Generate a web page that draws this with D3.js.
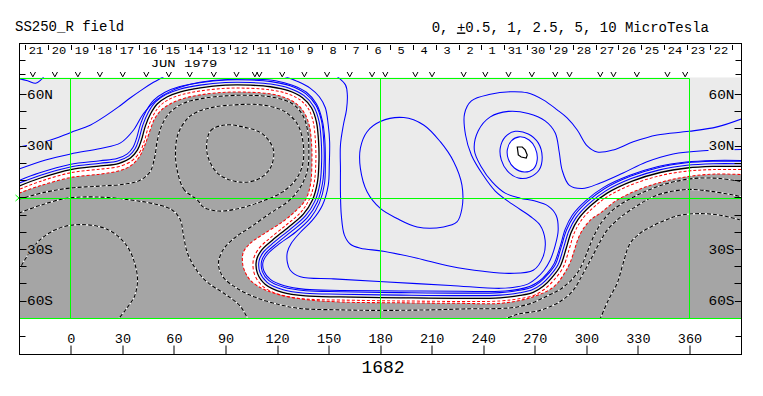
<!DOCTYPE html>
<html>
<head>
<meta charset="utf-8">
<script src="https://cdn.jsdelivr.net/npm/d3@7"></script>
<style>
  html, body { margin: 0; padding: 0; background: #fff; }
  svg { display: block; }
  text { font-family: "Liberation Mono", "DejaVu Sans Mono", monospace; fill: #000; }
</style>
</head>
<body>
<div id="chart"></div>
<script>
// Source surface field map, Carrington rotation 1682
// Contours are kept as [Carrington longitude, latitude] point lists

// neutral line (0 contour) and the edge of the shaded negative region
const neutralLine = [[-30.2,6.8],[-17.6,11.5],[0,16.4],[17.3,18.5],[27.7,19.9],[34.7,23.1],[38.8,27.8],[41.1,33.6],[43.4,41.8],[46.4,48.8],[50.4,54.6],[56.2,58.7],[63.8,61.6],[75.4,63.9],[90,65.4],[104.5,65.4],[116.1,64.5],[126.6,62.2],[134.8,58.1],[140,52.3],[142.9,44.1],[144.1,33.6],[144.4,22],[143.5,9.1],[140.6,-1.3],[135.3,-9.5],[126.6,-17.1],[117.3,-24.6],[110.9,-30.5],[108,-36.3],[108.6,-43.9],[113.2,-50.3],[123.1,-54.9],[136.5,-57],[156.9,-57.6],[191.8,-58.1],[226.7,-58.4],[249.9,-58.1],[261.5,-56.7],[269.1,-54.9],[274.9,-51.4],[280.1,-46.2],[284.8,-39.8],[288.3,-29.3],[291.2,-20],[295.3,-12.4],[302.3,-4.8],[312.1,2.7],[326.7,9.7],[343,14.7],[358.7,17.3],[373.8,18.2],[390.2,18.2]];
const grayEdge = [[-30.2,2.7],[-17.6,7.1],[0,11.8],[17.3,13.8],[27.7,15.6],[34.7,18.5],[39.4,23.1],[42.9,30.1],[46,38.9],[48.7,45.8],[52.8,51.1],[58,54.6],[65,57.5],[75.4,59.8],[90,61.3],[104.5,61.3],[116.1,60.4],[124.9,58.1],[131.3,54.6],[135.9,49.3],[138.8,41.8],[140,32.5],[140.3,22],[139.4,7.4],[136.5,-1.3],[131.3,-7.2],[123.7,-13.6],[112.1,-21.1],[104.5,-26.4],[100.4,-31.6],[99.9,-37.5],[101,-42.1],[104.5,-47.9],[113.8,-53.8],[133.6,-58.7],[156.9,-60.5],[191.8,-61],[226.7,-61.3],[249.9,-61.3],[267.3,-58.1],[280.7,-52],[286.5,-45],[290.6,-37.5],[296.4,-21.1],[302.3,-13],[308.1,-8.9],[317.9,-1.3],[331.3,5.1],[345.9,9.7],[361,12.6],[375.6,13.8],[390.2,13.5]];

// positive contours (solid blue)
const posBand3 = [[-30.2,16.7],[-14.7,22],[0,25.5],[17.3,28.7],[28.9,31.9],[36.5,39.4],[42.3,49],[49.8,56.9],[59.1,62.4],[69.6,65.9],[81.3,68],[95.8,68.9],[107.4,68.9],[119.1,68],[128.9,65.4],[137.1,61.3],[142.9,54.6],[146.4,44.7],[147.8,33.6],[148.1,22],[147.6,8],[144.6,-3.1],[139.4,-11.8],[130.7,-20],[120.2,-27.6],[114.4,-32.8],[111.8,-37.5],[112.4,-42.7],[116.1,-47.4],[124.3,-51.1],[136.5,-53.2],[156.9,-53.8],[191.8,-54.1],[226.7,-54.3],[249.9,-54.3],[260.4,-53.2],[267.3,-51.4],[272.5,-48.5],[277.2,-43.9],[281.3,-38.1],[284.8,-28.1],[287.7,-18.2],[291.8,-10.1],[299.4,-1.9],[309.8,5.9],[324.9,12.9],[341.8,18.2],[358.1,20.8],[373.8,21.7],[390.2,21.7]];
const posArcNW = [[-30.2,29.5],[-13.6,33],[0,38],[11.5,42.3],[20.2,47.6],[27.7,52.8],[34.7,58.1],[41.7,63],[48.1,67.1],[53.9,70.3],[55.5,71.5]];
const posArc4 = [[122.2,71.2],[132.4,67.4],[139.4,63.6],[144.6,58.7],[148.1,52.3],[149.8,42.3],[150.6,32.5],[150.4,19],[149.8,7.4],[146.4,-4.3],[140.6,-13],[133.6,-20],[128.3,-26.4],[126,-31.6],[126,-37.5],[127.7,-42.1],[133.6,-45.9],[152.8,-47.1],[181.9,-48.8],[220.8,-50.9],[249.9,-52.6],[259.8,-51.7],[266.2,-50],[270.8,-46.8],[275.4,-42.1],[278.9,-36.3],[281.9,-27.6],[283.6,-18.8],[282.4,-10.1],[277.8,-4.8],[270.2,-1.9],[261.5,-0.2],[252.8,2.7],[245.3,9.1],[238.9,17.9],[234.8,27.8],[237.1,38.9],[244.1,47],[254.6,50.2],[266.2,49],[276,44.7],[281.9,37.7],[284.2,26.6],[285.9,16.1],[290,7.4],[297.6,5.4],[308.1,8.6],[321.4,14.4],[334.9,20.8],[350.5,25.5],[370.3,27.5],[390.2,28.1]];
const posArcM = [[153.3,71.7],[159.8,65.6],[160.9,59.8],[160.4,51.1],[158.6,42.3],[156.9,30.7],[156.9,16.1],[156.9,3.3],[157.4,-10.1],[159.2,-21.7],[162.7,-27],[168.5,-29.3],[181.9,-31],[201.6,-35.1],[220.8,-39.8],[240,-42.7],[255.7,-43.9],[269.1,-42.1],[274.9,-34],[276,-24.6],[273.1,-15.9],[267.3,-10.7],[256.9,-3.7],[247,3.9],[239.5,13.8],[233.1,24.9],[229.7,36.5],[229.1,48.8],[233.1,56.3],[244.1,60.1],[255.7,61.6],[265.6,61],[274.9,56.9],[283,51.1],[288.8,46.4],[294.7,39.4],[300.5,30.1],[306.3,26.6],[315.6,27.8],[327.3,32.5],[341.2,36.5],[359.8,38.6],[376.1,41.2],[390.2,45.8]];
const posLoopMid = [[180.1,44.3],[193.7,46.6],[205.3,42.3],[215,32.6],[222.8,21],[227.6,7.4],[227.6,-6.2],[224.7,-14],[216.9,-16.9],[201.5,-16.9],[189.8,-12],[180.1,-6.2],[172.4,3.5],[168.5,17.1],[168.5,28.8],[172.4,38.4]];
const poleLoop1 = [[249.9,29],[252.8,35.4],[258.6,38.6],[266.2,37.1],[272,31.9],[274.3,23.7],[272.5,16.1],[267.3,12.1],[260.4,11.5],[254,15.6],[250.5,22]];
const poleLoop2 = [[254,27.8],[256.3,33],[260.9,35.4],[266.7,33.6],[270.2,29],[271.4,22],[269.1,16.7],[263.9,15],[258.1,17.3],[254.6,22.5]];
const poleCore = [[259.8,29.5],[262.7,29.5],[264.4,27.8],[265.6,24.9],[265,23.1],[262.1,23.7],[260.4,24.9]];
const posCornerNW = [[-30.5,69.3],[-25.2,68],[-20.5,66.5],[-17.6,68.3],[-15.3,71]];

// negative contours (dashed, inside the shaded region)
const negBand1 = [[-30.2,-0.8],[-14.7,3.3],[0,5.7],[17.3,6.8],[31.8,8],[40.5,10.3],[46,15],[48.7,23.1],[50.4,33.6],[53.3,42.9],[58,49.9],[65.5,54.9],[75.4,57.5],[90,59.2],[106.3,59.5],[119.1,58.1],[128.9,54.6],[134.8,48.2],[137.7,39.4],[138.5,27.8],[137.7,16.1],[133.6,6.2],[126.6,-1.9],[116.1,-8.9],[104.5,-17.1],[95.8,-22.9],[88.8,-29.9],[85.9,-38.1],[88.3,-45.6],[95.8,-52],[107.4,-57.8],[122,-62.2],[133.6,-64.3],[156.9,-65.1],[180.1,-65.4],[209.2,-65.1],[230.7,-64.5],[249.9,-64.3],[259.8,-63.4],[269.1,-60.8],[277.8,-56.7],[284.8,-53.2],[291.2,-47.9],[296.4,-41],[300.5,-31.6],[304.6,-21.7],[309.8,-13],[316.8,-6],[331.3,2.4],[347.1,8.3],[362.2,11.2],[377.9,11.2],[390.2,9.4]];
const negSW = [[-30.2,-8.9],[-17.6,-4.3],[-1.9,-0.2],[17.3,0.4],[34.7,-1.3],[49.3,-3.7],[59.1,-7.2],[63.8,-13],[65.5,-21.7],[67.9,-32.2],[72.5,-41],[79.5,-49.1],[90,-56.1],[98.7,-63.1],[103.4,-71.2]];
const negRing2 = [[73.7,-1.3],[66.1,4.5],[62.1,15],[60.9,26],[62.6,37.7],[69.6,47.6],[81.3,52.3],[95.8,54],[110.4,54],[123.7,50.5],[131.8,42.9],[135.3,30.7],[134.8,19],[130.7,10.3],[123.1,3.3],[111.5,-1.9],[98.7,-6],[85.9,-7.7],[77.2,-5.4]];
const negRing3 = [[79.3,25.9],[81.3,38.9],[90,42.3],[99.9,41.2],[111.5,37.1],[117.9,27.8],[116.1,17.3],[109.2,10.9],[98.7,9.1],[85.9,13.8]];
const negLowSW = [[-30.5,-42.5],[-25.2,-33.4],[-19.4,-25.8],[-11.8,-20],[-3.1,-16.5],[5.6,-15.6],[15.5,-16.5],[24.3,-20],[32.4,-27.6],[37,-37.5],[38.8,-47.9],[37,-57.3],[32.4,-64.3],[27.2,-71]];
const negSE1 = [[251.2,-71],[259.8,-67.7],[273.1,-65.4],[284.8,-60.2],[292.3,-53.8],[297.6,-45],[302.3,-36.3],[306.9,-27.6],[312.1,-18.8],[318.5,-12.4],[325.5,-7.2],[340.6,1.3],[358.1,4.8],[373.8,3.6],[390.2,0.7]];
const negSE2 = [[307.8,-71],[312.7,-59.6],[317.9,-49.7],[321.4,-38.1],[325.5,-26.4],[331.3,-20.6],[337.2,-17.1],[345.9,-13],[354.6,-10.1],[366.3,-9.2],[377.9,-10.1],[390.2,-13]];

// axes
const lonTicks = [0, 30, 60, 90, 120, 150, 180, 210, 240, 270, 300, 330, 360];
const latTicks = [-60, -50, -40, -30, -20, -10, 0, 10, 20, 30, 40, 50, 60];
const latLabels = [[60, '60N'], [30, '30N'], [-30, '30S'], [-60, '60S']];
const gridLons = [0, 180, 360];
const dayLabels = [21,20,19,18,17,16,15,14,13,12,11,10,9,8,7,6,5,4,3,2,1,31,30,29,28,27,26,25,24,23,22];
const dayStartLon = -26.35;   // first day tick
const degPerDay = 13.28;
const obsLon = [-22.1,-9.3,4.1,16.9,30.2,43.9,57,69.2,83.2,96.4,107.1,109.7,123,135.9,149.1,162.3,175.3,183,200.5,210.2,228.6,241.2,254.7,268.3,281.9,290.2,308.1,315.8,329.4,347.2,357.5];

const W = 763, H = 396;
const plot = { left: 19.3, right: 741, top: 77.3, bottom: 318.3 };
const BG = '#ebebeb', NEG = '#a5a5a5', GREEN = '#00ff00', BLUE = '#0000ff', RED = '#ff0000';
const LW = 1.05;   // contour line width

const x = d3.scaleLinear().domain([-30, 390]).range([plot.left, plot.right]);
const y = d3.scaleLinear().domain([70, -70]).range([plot.top, plot.bottom]);
const px = v => Math.floor(v) + 0.5;   // snap straight lines to pixel centres

const line = d3.line().x(d => x(d[0])).y(d => y(d[1])).curve(d3.curveCatmullRom.alpha(0.5));
const loop = d3.line().x(d => x(d[0])).y(d => y(d[1])).curve(d3.curveCatmullRomClosed.alpha(0.5));
const poly = d3.line().x(d => x(d[0])).y(d => y(d[1])).curve(d3.curveLinearClosed);

// region between a left-to-right contour and the bottom (or top) of the map
function below(pts) {
    const a = pts[0], b = pts[pts.length - 1];
    return 'M' + (plot.left - 4) + ',' + y(a[1]) + 'L' + line(pts).slice(1) +
        'L' + (plot.right + 4) + ',' + y(b[1]) + 'L' + (plot.right + 4) + ',' + (plot.bottom + 5) +
        'L' + (plot.left - 4) + ',' + (plot.bottom + 5) + 'Z';
}
function above(pts) {
    const a = pts[0], b = pts[pts.length - 1];
    return 'M' + (plot.left - 4) + ',' + y(a[1]) + 'L' + line(pts).slice(1) +
        'L' + (plot.right + 4) + ',' + y(b[1]) + 'L' + (plot.right + 4) + ',' + (plot.top - 5) +
        'L' + (plot.left - 4) + ',' + (plot.top - 5) + 'Z';
}

const svg = d3.select('#chart').append('svg').attr('width', W).attr('height', H);
svg.append('rect').attr('width', W).attr('height', H).attr('fill', '#fff');

const defs = svg.append('defs');
defs.append('clipPath').attr('id', 'plotClip').append('rect')
    .attr('x', plot.left).attr('y', plot.top)
    .attr('width', plot.right - plot.left).attr('height', plot.bottom - plot.top);
defs.append('clipPath').attr('id', 'posSide').append('path').attr('d', above(neutralLine));
defs.append('clipPath').attr('id', 'negSide').append('path').attr('d', below(neutralLine));

const g = svg.append('g').attr('clip-path', 'url(#plotClip)');

// background shading
g.append('rect').attr('x', plot.left).attr('y', plot.top)
    .attr('width', plot.right - plot.left).attr('height', plot.bottom - plot.top).attr('fill', BG);
g.append('path').attr('d', below(neutralLine)).attr('fill', '#fff');
g.append('path').attr('d', below(grayEdge)).attr('fill', NEG);
g.append('path').attr('d', loop(poleLoop2)).attr('fill', '#fff');

// the two weakest positive levels run right alongside the neutral line
const posG = g.append('g').attr('clip-path', 'url(#posSide)');
[[5.2 * 2 + LW, BLUE], [5.2 * 2 - LW, BG], [2.7 * 2 + LW, BLUE], [2.7 * 2 - LW, BG]].forEach(([w, c]) => {
    posG.append('path').attr('d', line(neutralLine)).attr('fill', 'none')
        .attr('stroke', c).attr('stroke-width', w).attr('stroke-linejoin', 'round');
});

// weak negative level on the other side
const negG = g.append('g').attr('clip-path', 'url(#negSide)');
negG.append('path').attr('d', line(neutralLine)).attr('fill', 'none')
    .attr('stroke', RED).attr('stroke-width', 7.2).attr('stroke-dasharray', '3,2');
negG.append('path').attr('d', line(neutralLine)).attr('fill', 'none')
    .attr('stroke', '#fff').attr('stroke-width', 5.2).attr('stroke-linejoin', 'round');

g.append('path').attr('d', line(grayEdge)).attr('fill', 'none')
    .attr('stroke', RED).attr('stroke-width', LW).attr('stroke-dasharray', '3,2');

// positive contours
[posBand3, posArcNW, posArc4, posArcM, posCornerNW].forEach(pts => {
    g.append('path').attr('d', line(pts)).attr('fill', 'none')
        .attr('stroke', BLUE).attr('stroke-width', LW);
});
[posLoopMid, poleLoop1, poleLoop2].forEach(pts => {
    g.append('path').attr('d', loop(pts)).attr('fill', 'none')
        .attr('stroke', BLUE).attr('stroke-width', LW);
});
g.append('path').attr('d', poly(poleCore)).attr('fill', 'none')
    .attr('stroke', '#000').attr('stroke-width', 1.2);

// negative contours, black dashes on a white line
function dashed(d) {
    g.append('path').attr('d', d).attr('fill', 'none').attr('stroke', '#fff').attr('stroke-width', 1.1);
    g.append('path').attr('d', d).attr('fill', 'none').attr('stroke', '#000')
        .attr('stroke-width', 1.1).attr('stroke-dasharray', '4,2');
}
[negBand1, negSW, negLowSW, negSE1, negSE2].forEach(pts => dashed(line(pts)));
[negRing2, negRing3].forEach(pts => dashed(loop(pts)));

// neutral line
g.append('path').attr('d', line(neutralLine)).attr('fill', 'none')
    .attr('stroke', '#000').attr('stroke-width', 1.3);

// green reference lines
const grid = svg.append('g').attr('stroke', GREEN).attr('stroke-width', 1);
const hLine = (l0, l1, yy) => grid.append('line')
    .attr('x1', x(l0)).attr('x2', x(l1)).attr('y1', yy).attr('y2', yy);
hLine(-30, 360, px(y(70)) + 1);
hLine(-30, 390, px(y(-70)));
hLine(-30, 390, px(y(0)) + 1);
gridLons.forEach(l => {
    grid.append('line').attr('x1', px(x(l))).attr('x2', px(x(l))).attr('y1', px(y(70)) + 1).attr('y2', px(y(-70)));
});
svg.append('path').attr('d', 'M15.5,195L19,198L15.5,201').attr('fill', 'none')
    .attr('stroke', GREEN).attr('stroke-width', 1);

// frame
const frame = { top: 43.5, bottom: 354.5, left: 19.5, right: 741.5 };
svg.append('rect').attr('x', frame.left).attr('y', frame.top)
    .attr('width', frame.right - frame.left).attr('height', frame.bottom - frame.top)
    .attr('fill', 'none').attr('stroke', '#000').attr('stroke-width', 1);

const ticks = svg.append('g').attr('stroke', '#000').attr('stroke-width', 1);
[60.5, 74.5, 336.5].forEach(ty => {
    ticks.append('line').attr('x1', frame.left).attr('x2', frame.left + 6).attr('y1', ty).attr('y2', ty);
    ticks.append('line').attr('x1', frame.right - 6).attr('x2', frame.right).attr('y1', ty).attr('y2', ty);
});

// latitude ticks and labels
latTicks.forEach(l => {
    const ty = px(y(l));
    ticks.append('line').attr('x1', frame.left).attr('x2', frame.left + 7).attr('y1', ty).attr('y2', ty);
    ticks.append('line').attr('x1', frame.right - 7).attr('x2', frame.right).attr('y1', ty).attr('y2', ty);
});
latLabels.forEach(([l, txt]) => {
    const fill = l > 0 ? BG : NEG;
    [[frame.left + 7.5, 'start'], [frame.right - 7, 'end']].forEach(([tx, anchor]) => {
        const t = svg.append('text').attr('x', tx).attr('y', y(l) + 4.3)
            .attr('text-anchor', anchor).attr('font-size', 13)
            .attr('textLength', 26).attr('lengthAdjust', 'spacingAndGlyphs').text(txt);
        const bb = t.node().getBBox();
        svg.insert('rect', () => t.node()).attr('x', bb.x).attr('y', y(l) - 5)
            .attr('width', bb.width).attr('height', 10).attr('fill', fill);
    });
});

// longitude axis
const xAxis = d3.axisTop(x).tickValues(lonTicks).tickSize(9).tickPadding(3).tickFormat(d3.format('d'));
const ax = svg.append('g').attr('transform', `translate(0,${frame.bottom})`).call(xAxis);
ax.select('.domain').remove();
ax.selectAll('line').attr('stroke', '#000').attr('transform', d => `translate(${px(x(d)) - x(d)},0)`);
ax.selectAll('text').attr('font-size', 13.5).attr('fill', '#000')
    .style('font-family', '"Liberation Mono", monospace');

svg.append('text').attr('x', 383).attr('y', 373).attr('text-anchor', 'middle')
    .attr('font-size', 18).text('1682');

// day-of-month ticks along the top
dayLabels.concat([null]).forEach((d, i) => {
    const tx = px(x(dayStartLon + i * degPerDay));
    ticks.append('line').attr('x1', tx).attr('x2', tx).attr('y1', 45).attr('y2', 50);
    if (d !== null) {
        svg.append('text').attr('x', tx + 10.5).attr('y', 53.5).attr('text-anchor', 'middle')
            .attr('font-size', 11.5).attr('textLength', d > 9 ? 14.5 : 7.2)
            .attr('lengthAdjust', 'spacingAndGlyphs').text(d);
    }
});
svg.append('text').attr('x', 150.7).attr('y', 67).attr('font-size', 11)
    .attr('textLength', 66.6).attr('lengthAdjust', 'spacingAndGlyphs').text('JUN 1979');

// observation markers
svg.append('g').selectAll('path').data(obsLon).enter().append('path')
    .attr('d', d => `M${x(d) - 2.6},72L${x(d)},76.8L${x(d) + 2.6},72`)
    .attr('fill', 'none').attr('stroke', '#000').attr('stroke-width', 1);

// titles
svg.append('text').attr('x', 15).attr('y', 31).attr('font-size', 14).text('SS250_R field');
const legend = svg.append('text').attr('x', 431.7).attr('y', 31.5).attr('font-size', 14);
legend.append('tspan').text('0, ');
legend.append('tspan').attr('text-decoration', 'underline').text('+');
legend.append('tspan').text('0.5, 1, 2.5, 5, 10 MicroTesla');
</script>
</body>
</html>
